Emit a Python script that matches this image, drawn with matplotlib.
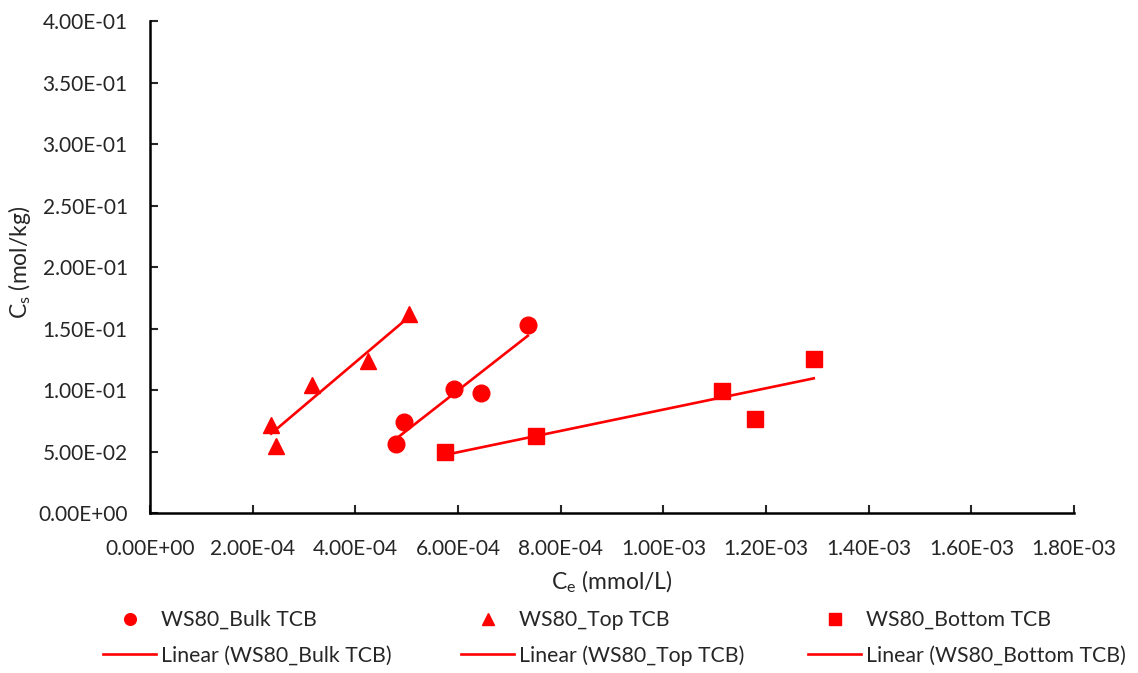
import numpy as np
import matplotlib
matplotlib.use("Agg")
import matplotlib.pyplot as plt
from matplotlib.ticker import FuncFormatter, MultipleLocator

plt.rcParams['font.family'] = ['Lato', 'DejaVu Sans']

bulk_x = [4.79e-4, 4.95e-4, 5.92e-4, 6.45e-4, 7.36e-4]
bulk_y = [0.0561, 0.0740, 0.1008, 0.0976, 0.1528]
top_x = [2.36e-4, 2.45e-4, 3.15e-4, 4.25e-4, 5.04e-4]
top_y = [0.0715, 0.0545, 0.1040, 0.1236, 0.1618]
bottom_x = [5.74e-4, 7.52e-4, 1.114e-3, 1.178e-3, 1.293e-3]
bottom_y = [0.0496, 0.0626, 0.0992, 0.0764, 0.1250]

series = [
    ("WS80_Bulk TCB", bulk_x, bulk_y, "o", 12),
    ("WS80_Top TCB", top_x, top_y, "^", 12),
    ("WS80_Bottom TCB", bottom_x, bottom_y, "s", 12),
]

red = "#ff0000"
txt = "#262626"
fig = plt.figure(figsize=(11.38, 6.73), dpi=100)
ax = fig.add_axes([0.1318, 0.2377, 0.812, 0.7311])

pairs = []
for name, xs, ys, mk, ms in series:
    xs = np.array(xs)
    ys = np.array(ys)
    pts, = ax.plot(xs, ys, linestyle="none", marker=mk, markersize=ms,
                   color=red, label=name, zorder=3)
    # Excel-style linear trendline
    k, b = np.polyfit(xs, ys, 1)
    xx = np.array([xs.min(), xs.max()])
    ln, = ax.plot(xx, k * xx + b, color=red, linewidth=1.9,
                  label=f"Linear ({name})", zorder=2)
    pairs.append((pts, ln))

ax.set_xlim(0, 1.8e-3)
ax.set_ylim(0, 0.4)
ax.xaxis.set_major_locator(MultipleLocator(2e-4))
ax.yaxis.set_major_locator(MultipleLocator(0.05))


def sci(v, pos):
    return f"{v:.2E}"


ax.xaxis.set_major_formatter(FuncFormatter(sci))
ax.yaxis.set_major_formatter(FuncFormatter(sci))

for side in ("top", "right"):
    ax.spines[side].set_visible(False)
for side in ("left", "bottom"):
    ax.spines[side].set_linewidth(1.8)
ax.tick_params(direction="in", length=6, width=1.5, labelsize=15,
               colors=txt)
ax.tick_params(axis="x", pad=19)
ax.tick_params(axis="y", pad=16)

ax.set_xlabel("C$_\\mathregular{e}$ (mmol/L)", fontsize=16.5, color=txt)
ax.set_ylabel("C$_\\mathregular{s}$ (mol/kg)", fontsize=16.5, color=txt)
ax.xaxis.set_label_coords(0.5, -0.112)
ax.yaxis.set_label_coords(-0.127, 0.51)

# one legend per column, like the Excel layout
col_left = [103, 461, 808]
for (pts, ln), xl in zip(pairs, col_left):
    leg = fig.legend(handles=[pts, ln], loc="upper left",
                     bbox_to_anchor=(xl / 1138, 1 - 610 / 673),
                     frameon=False, fontsize=15.3, handlelength=2.5,
                     markerscale=0.7, labelspacing=0.72, handletextpad=0.25,
                     borderpad=0, borderaxespad=0)
    for t in leg.get_texts():
        t.set_color(txt)

fig.savefig("out.png", dpi=100)
